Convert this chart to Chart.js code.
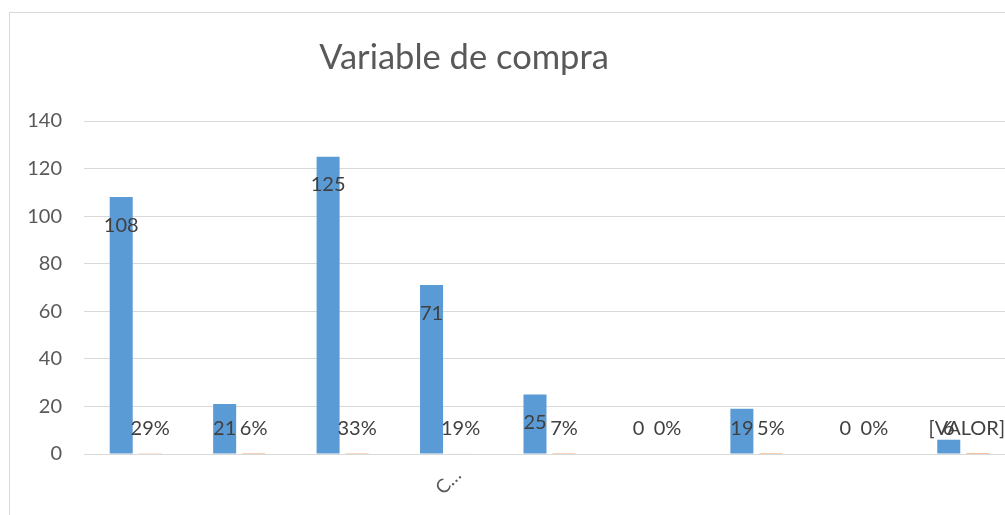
<!DOCTYPE html>
<html>
<head>
<meta charset="utf-8">
<script src="https://cdn.jsdelivr.net/npm/chart.js@4.4.1/dist/chart.umd.min.js"></script>
<style>
  html, body { margin:0; padding:0; background:#fff; }
  body { width:1005px; height:515px; overflow:hidden; position:relative; }
  #frame { position:absolute; left:9px; top:12px; width:1100px; height:600px; border:1px solid #D9D9D9; box-sizing:border-box; }
  #wrap { position:absolute; left:0; top:0; width:1020px; height:515px; }
</style>
</head>
<body>
<div id="frame"></div>
<div id="wrap"><canvas id="c" width="1020" height="515"></canvas></div>
<script>
const title = 'Variable de compra';
const categories = ['', '', '', 'C…', '', '', '', '', ''];
const counts = [108, 21, 125, 71, 25, 0, 19, 0, 6];
const percents = [0.29, 0.06, 0.33, 0.19, 0.07, 0, 0.05, 0, 0.02];
const percentLabels = ['29%', '6%', '33%', '19%', '7%', '0%', '5%', '0%', '[VALOR]'];
const yTicks = [0, 20, 40, 60, 80, 100, 120, 140];

const FONT = 'Lato, "Open Sans", sans-serif';

const labelPlugin = {
  id: 'labels',
  afterDatasetsDraw(chart) {
    const ctx = chart.ctx;
    const y = chart.scales.y;
    const base = y.getPixelForValue(0);
    ctx.save();
    ctx.font = '20px ' + FONT;
    ctx.fillStyle = '#404040';
    ctx.textAlign = 'center';
    ctx.textBaseline = 'middle';
    chart.getDatasetMeta(0).data.forEach((bar, i) => {
      const ty = Math.min(bar.y + 28, base - 25);
      ctx.fillText(String(counts[i]), bar.x, ty);
    });
    chart.getDatasetMeta(1).data.forEach((bar, i) => {
      const txt = percentLabels[i];
      const w = ctx.measureText(txt).width;
      const x = Math.min(bar.x, 1005 - w / 2);
      ctx.fillText(txt, x, base - 25);
    });
    // title
    ctx.font = '34.5px ' + FONT;
    ctx.fillStyle = '#595959';
    ctx.textBaseline = 'alphabetic';
    ctx.fillText(title, 464, 69);
    ctx.restore();
  }
};

new Chart(document.getElementById('c'), {
  type: 'bar',
  data: {
    labels: categories,
    datasets: [
      { label: 'Cantidad', data: counts, backgroundColor: '#5B9BD5', categoryPercentage: 0.561, barPercentage: 0.793 },
      { label: 'Porcentaje', data: percents, backgroundColor: '#ED7D31', categoryPercentage: 0.561, barPercentage: 0.793 }
    ]
  },
  options: {
    responsive: false,
    animation: false,
    layout: { padding: { left: 0, right: 5, top: 121, bottom: 0 } },
    plugins: { legend: { display: false }, title: { display: false }, tooltip: { enabled: false } },
    scales: {
      x: {
        grid: { display: false, drawTicks: false },
        border: { display: false },
        ticks: {
          autoSkip: false, minRotation: 45, maxRotation: 45,
          color: '#595959', font: { family: FONT, size: 19 },
          padding: 10, labelOffset: 12
        },
        afterFit(s) { s.height = 61; }
      },
      y: {
        min: 0, max: 140,
        afterBuildTicks(s) { s.ticks = yTicks.map(v => ({ value: v })); },
        grid: { color: '#D9D9D9', lineWidth: 1, drawTicks: false },
        border: { display: false },
        ticks: { color: '#595959', font: { family: FONT, size: 20 }, padding: 22 },
        afterFit(s) { s.width = 84; }
      }
    }
  },
  plugins: [labelPlugin]
});
</script>
</body>
</html>
